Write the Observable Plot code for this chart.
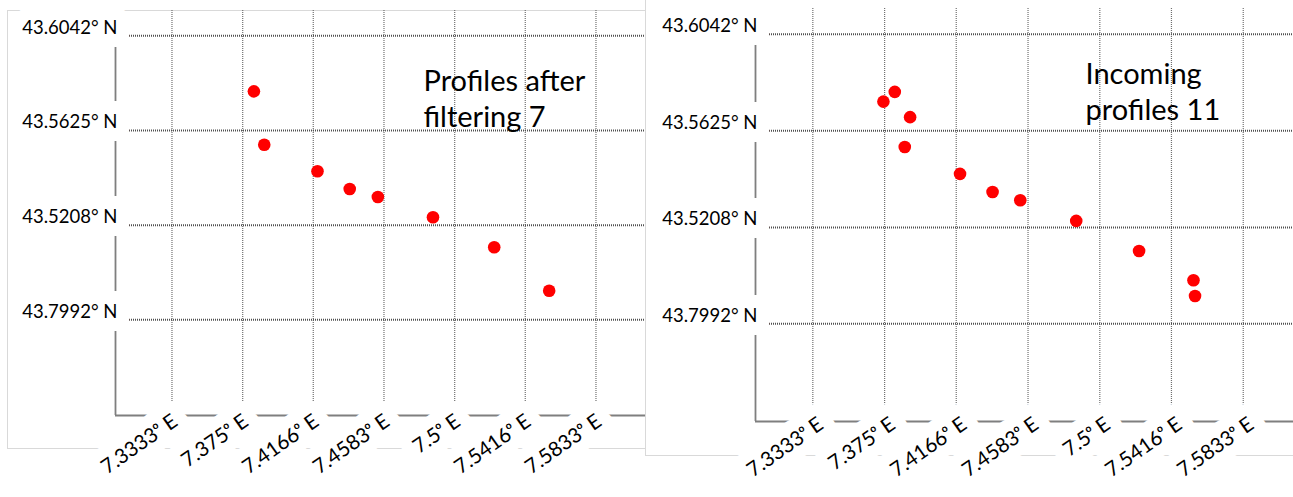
<!DOCTYPE html>
<html><head><meta charset="utf-8">
<script src="https://cdn.jsdelivr.net/npm/d3@7"></script>
<script src="https://cdn.jsdelivr.net/npm/@observablehq/plot@0.6"></script>
<style>
html,body{margin:0;padding:0;background:#fff;}
#wrap{position:relative;width:1293px;height:497px;overflow:hidden;}
.frame{position:absolute;box-sizing:border-box;}
#f1{left:7px;top:10px;width:639px;height:439px;border:1px solid #d9d9d9;}
#f2{left:645px;top:0;width:648px;height:456px;border-left:1px solid #d9d9d9;border-bottom:1px solid #d9d9d9;}
.panel{position:absolute;top:0;}
</style></head><body>
<div id="wrap"><div class="frame" id="f1"></div><div class="frame" id="f2"></div>
<div class="panel" id="p1" style="left:0"></div><div class="panel" id="p2" style="left:646px"></div></div>
<script>
// Tick values and labels (as printed on the source chart)
const lonTicks = [7.3333, 7.375, 7.4166, 7.4583, 7.5, 7.5416, 7.5833];
const lonTickLabels = ["7.3333ᵒ E", "7.375ᵒ E", "7.4166ᵒ E", "7.4583ᵒ E", "7.5ᵒ E", "7.5416ᵒ E", "7.5833ᵒ E"];
const latTicks = [43.6042, 43.5625, 43.5208, 43.4792];
const latTickLabels = ["43.6042° N", "43.5625° N", "43.5208° N", "43.7992° N"];
const lonDomain = [7.3, 7.6125];
const latDomain = [43.437, 43.6153];

// Left panel: profiles after filtering
const filteredLon = [7.3816, 7.3877, 7.4191, 7.4381, 7.4547, 7.4872, 7.5233, 7.5557];
const filteredLat = [43.5797, 43.5562, 43.5445, 43.5367, 43.5332, 43.5243, 43.5111, 43.4919];
// Right panel: incoming profiles
const incomingLon = [7.3743, 7.3809, 7.3898, 7.3867, 7.4188, 7.4377, 7.4538, 7.4863, 7.5228, 7.5544, 7.5553];
const incomingLat = [43.5751, 43.5793, 43.5684, 43.5555, 43.5439, 43.5361, 43.5325, 43.5236, 43.5106, 43.4980, 43.4912];

const titles = ["Profiles after\nfiltering 7", "Incoming\nprofiles 11"];

function panel(o) {
  const pts = o.lon.map((d, i) => ({lon: d, lat: o.lat[i]}));
  const xt = lonTicks.map((v, i) => ({v, label: lonTickLabels[i]}));
  const yt = latTicks.map((v, i) => ({v, label: latTickLabels[i]}));
  return Plot.plot({
    width: o.width, height: 497,
    marginLeft: o.ml, marginRight: o.mr, marginTop: o.mt, marginBottom: o.mb,
    x: {domain: lonDomain, axis: null},
    y: {domain: latDomain, axis: null},
    style: {fontFamily: "Lato, 'DejaVu Sans', sans-serif", fontSize: "18px", background: "transparent", overflow: "visible", color: "#000"},
    marks: [
      Plot.ruleX(lonTicks, {stroke: "#707070", strokeWidth: 1.2, strokeDasharray: "1 1", strokeOpacity: 1}),
      Plot.ruleY(latTicks, {stroke: "#505050", strokeWidth: 2, strokeDasharray: "1 1", strokeOpacity: 1}),
      Plot.ruleX([lonDomain[0]], {stroke: "#7f7f7f", strokeWidth: 1.8}),
      Plot.ruleY([latDomain[0]], {stroke: "#7f7f7f", strokeWidth: 1.8}),
      Plot.dot(pts, {x: "lon", y: "lat", r: 6.3, fill: "#ff0000", stroke: "none"}),
      Plot.text(yt, {y: "v", text: "label", frameAnchor: "left", textAnchor: "end", dx: 2, dy: -8,
        fill: "#000", stroke: "white", strokeWidth: 26, paintOrder: "stroke", fontSize: 18.5}),
      Plot.text(xt, {x: "v", text: "label", frameAnchor: "bottom", textAnchor: "end", rotate: -35,
        dx: o.xdx, dy: o.xdy, fill: "#000", stroke: "white", strokeWidth: 24, paintOrder: "stroke", fontSize: 20.5}),
      Plot.text([o.title], {frameAnchor: "top-left", textAnchor: "start", lineAnchor: "top",
        dx: o.tdx, dy: o.tdy, fontSize: 29, lineHeight: 1.27, fill: "#000"})
    ]
  });
}

document.getElementById("p1").append(panel({
  lon: filteredLon, lat: filteredLat, title: titles[0],
  width: 646, ml: 115, mr: 1, mt: 10, mb: 82, xdx: 7, xdy: 9, tdx: 308, tdy: 54
}));
document.getElementById("p2").append(panel({
  lon: incomingLon, lat: incomingLat, title: titles[1],
  width: 647, ml: 109, mr: 0, mt: 8, mb: 76, xdx: 12, xdy: 6, tdx: 330, tdy: 49
}));
</script>
</body></html>
